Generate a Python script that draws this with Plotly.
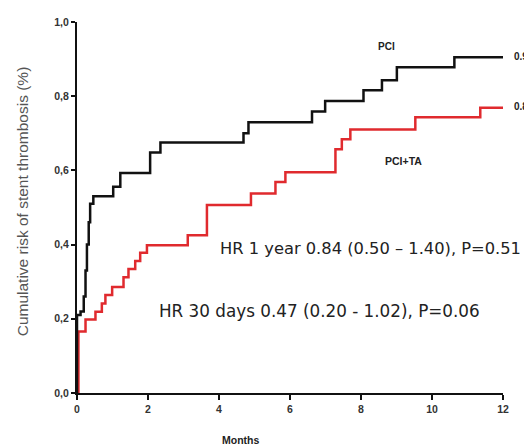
import plotly.graph_objects as go

# Data (months, cumulative risk)
pci_months = [0, 0.0, 0.10, 0.19, 0.24, 0.28, 0.33, 0.37, 0.46, 1.02, 1.22, 2.06, 2.35,
              4.69, 4.83, 6.62, 6.99, 8.07, 8.59, 9.01, 10.63, 12.0]
pci_risk = [0, 0.21, 0.22, 0.26, 0.33, 0.40, 0.46, 0.51, 0.53, 0.556, 0.593, 0.648, 0.675,
            0.70, 0.73, 0.759, 0.787, 0.816, 0.843, 0.878, 0.905, 0.905]

pcita_months = [0, 0.04, 0.24, 0.52, 0.70, 0.80, 0.99, 1.31, 1.45, 1.64, 1.78, 1.97,
                3.12, 3.66, 4.90, 5.59, 5.87, 7.28, 7.46, 7.70, 9.53, 11.36, 12.0]
pcita_risk = [0, 0.166, 0.198, 0.219, 0.241, 0.264, 0.286, 0.312, 0.334, 0.356, 0.378, 0.398,
              0.425, 0.507, 0.538, 0.569, 0.595, 0.657, 0.684, 0.71, 0.743, 0.769, 0.769]

x_ticks = [0, 2, 4, 6, 8, 10, 12]
x_ticklabels = ["0", "2", "4", "6", "8", "10", "12"]
y_ticks = [0, 0.2, 0.4, 0.6, 0.8, 1.0]
y_ticklabels = ["0,0", "0,2", "0,4", "0,6", "0,8", "1,0"]

fig = go.Figure()
fig.add_trace(go.Scatter(x=pcita_months, y=pcita_risk, mode="lines", line_shape="hv",
                         line=dict(color="#e02a2e", width=2.5), showlegend=False))
fig.add_trace(go.Scatter(x=pci_months, y=pci_risk, mode="lines", line_shape="hv",
                         line=dict(color="#111111", width=2.5), showlegend=False))

tick_font = dict(family="Liberation Sans", size=10.5, color="#333333", weight="bold")

fig.update_layout(
    width=524, height=439,
    margin=dict(l=69, r=29, t=8, b=54),
    paper_bgcolor="white", plot_bgcolor="white",
    xaxis=dict(range=[0, 12], tickvals=x_ticks, ticktext=x_ticklabels, showgrid=False,
               zeroline=False, showline=True, linecolor="#111111", linewidth=2,
               ticks="outside", ticklen=5, tickwidth=2, tickcolor="#111111",
               tickfont=tick_font),
    yaxis=dict(range=[0, 1.0], tickvals=y_ticks, ticktext=y_ticklabels, showgrid=False,
               zeroline=False, showline=True, linecolor="#111111", linewidth=2,
               ticks="outside", ticklen=4, tickwidth=2, tickcolor="#111111",
               tickfont=tick_font),
)

txt = "#222222"
anns = [
    dict(x=8.71, y=0.935, text="PCI", xanchor="center", yanchor="middle",
         font=dict(family="Liberation Sans", size=10, color=txt, weight="bold")),
    dict(x=9.19, y=0.625, text="PCI+TA", xanchor="center", yanchor="middle",
         font=dict(family="Liberation Sans", size=10.5, color=txt, weight="bold")),
    dict(x=3.98, y=0.389, text="HR 1 year 0.84 (0.50 \u2013 1.40), P=0.51", xanchor="left",
         yanchor="middle", font=dict(family="DejaVu Sans", size=16.3, color=txt)),
    dict(x=2.25, y=0.222, text="HR 30 days 0.47 (0.20 - 1.02), P=0.06", xanchor="left",
         yanchor="middle", font=dict(family="DejaVu Sans", size=16.8, color=txt)),
    dict(x=1.022, xref="paper", y=0.906, text="0.91", xanchor="left", yanchor="middle",
         font=dict(family="Liberation Sans", size=10, color=txt, weight="bold")),
    dict(x=1.022, xref="paper", y=0.771, text="0.8", xanchor="left", yanchor="middle",
         font=dict(family="Liberation Sans", size=10, color=txt, weight="bold")),
    dict(x=4.6, y=-0.128, yref="paper", text="Months", xanchor="center", yanchor="middle",
         font=dict(family="Liberation Sans", size=10.5, color=txt, weight="bold")),
    dict(x=-0.128, xref="paper", y=0.518, text="Cumulative risk of stent thrombosis (%)",
         textangle=-90, xanchor="center", yanchor="middle",
         font=dict(family="Liberation Sans", size=15.5, color="#555555")),
]
for a in anns:
    a.setdefault("xref", "x")
    a.setdefault("yref", "y")
    a["showarrow"] = False
    fig.add_annotation(**a)

fig.write_html("out.html")
